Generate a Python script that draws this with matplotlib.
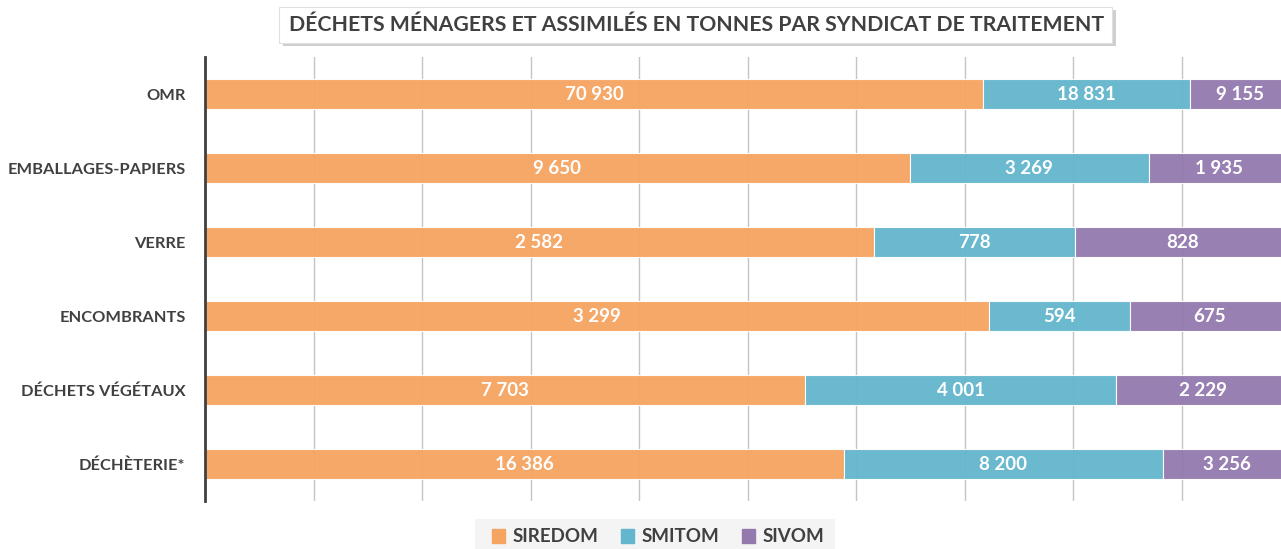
import matplotlib
matplotlib.use("Agg")
import matplotlib.pyplot as plt
from matplotlib.patches import Rectangle
import numpy as np

categories = ["OMR", "EMBALLAGES-PAPIERS", "VERRE", "ENCOMBRANTS", "DÉCHETS VÉGÉTAUX", "DÉCHÈTERIE*"]
siredom = [70930, 9650, 2582, 3299, 7703, 16386]
smitom = [18831, 3269, 778, 594, 4001, 8200]
sivom = [9155, 1935, 828, 675, 2229, 3256]
series_names = ["SIREDOM", "SMITOM", "SIVOM"]
colors = ["#F6A461", "#63B6CD", "#9479AE"]
title = "DÉCHETS MÉNAGERS ET ASSIMILÉS EN TONNES PAR SYNDICAT DE TRAITEMENT"

plt.rcParams['font.family'] = ['Lato', 'DejaVu Sans']
textc = "#404040"

W, H = 1281, 549
fig = plt.figure(figsize=(W/100, H/100), dpi=100)
ax = fig.add_axes([205/W, 1-501/H, 1085/W, 444/H])

data = np.array([siredom, smitom, sivom], dtype=float)
tot = data.sum(axis=0)
pct = data / tot
y = np.arange(len(categories))
left = np.zeros(len(categories))
for i, name in enumerate(series_names):
    ax.barh(y, pct[i], left=left, height=0.4, color=colors[i], label=name,
            edgecolor="white", linewidth=0.8, alpha=0.95, zorder=2)
    for j in range(len(categories)):
        v = int(data[i, j])
        s = f"{v:,}".replace(",", " ")
        ax.text(left[j] + pct[i, j]/2, y[j], s, ha="center", va="center",
                color="white", fontsize=13.5, fontweight="bold", zorder=4)
    left += pct[i]

ax.set_xlim(0, 1)
ax.set_ylim(len(categories)-0.5, -0.5)
ax.set_xticks(np.arange(0, 1.01, 0.1))
ax.xaxis.grid(True, color="#C4C4C4", linewidth=1, zorder=1)
ax.set_axisbelow(True)
ax.tick_params(axis="x", length=0, labelbottom=False)
ax.tick_params(axis="y", length=0, pad=14)
ax.set_yticks(y)
ax.set_yticklabels(categories, fontsize=11.8, fontweight="bold", color=textc)
for sp in ["top", "right", "bottom"]:
    ax.spines[sp].set_visible(False)
ax.spines["left"].set_color("#404040")
ax.spines["left"].set_linewidth(2)
ax.spines["left"].set_zorder(5)

# title box with shadow
fig.patches.append(Rectangle((283/W, 1-46/H), 833/W, 36/H, transform=fig.transFigure,
                             facecolor="#B0B0B0", edgecolor="none", alpha=0.6, zorder=0))
fig.patches.append(Rectangle((279/W, 1-43/H), 833/W, 36/H, transform=fig.transFigure,
                             facecolor="white", edgecolor="#E0E0E0", linewidth=0.8, zorder=1))
fig.text(697/W, 1-25/H, title, ha="center", va="center", fontsize=15.3,
         fontweight="bold", color=textc, zorder=2)

# legend
fig.patches.append(Rectangle((475/W, 0), 360/W, 30/H, transform=fig.transFigure,
                             facecolor="#F4F4F4", edgecolor="none", zorder=0))
handles = [Rectangle((0, 0), 1, 1, color=c) for c in colors]
fig.legend(handles, series_names, loc="center", bbox_to_anchor=(658/W, 1-537/H),
           ncol=3, frameon=False, handlelength=0.7, handleheight=0.7,
           handletextpad=0.4, columnspacing=1.2,
           prop={"weight": "bold", "size": 13.5}, labelcolor=textc)

fig.savefig("out.png", dpi=100)
